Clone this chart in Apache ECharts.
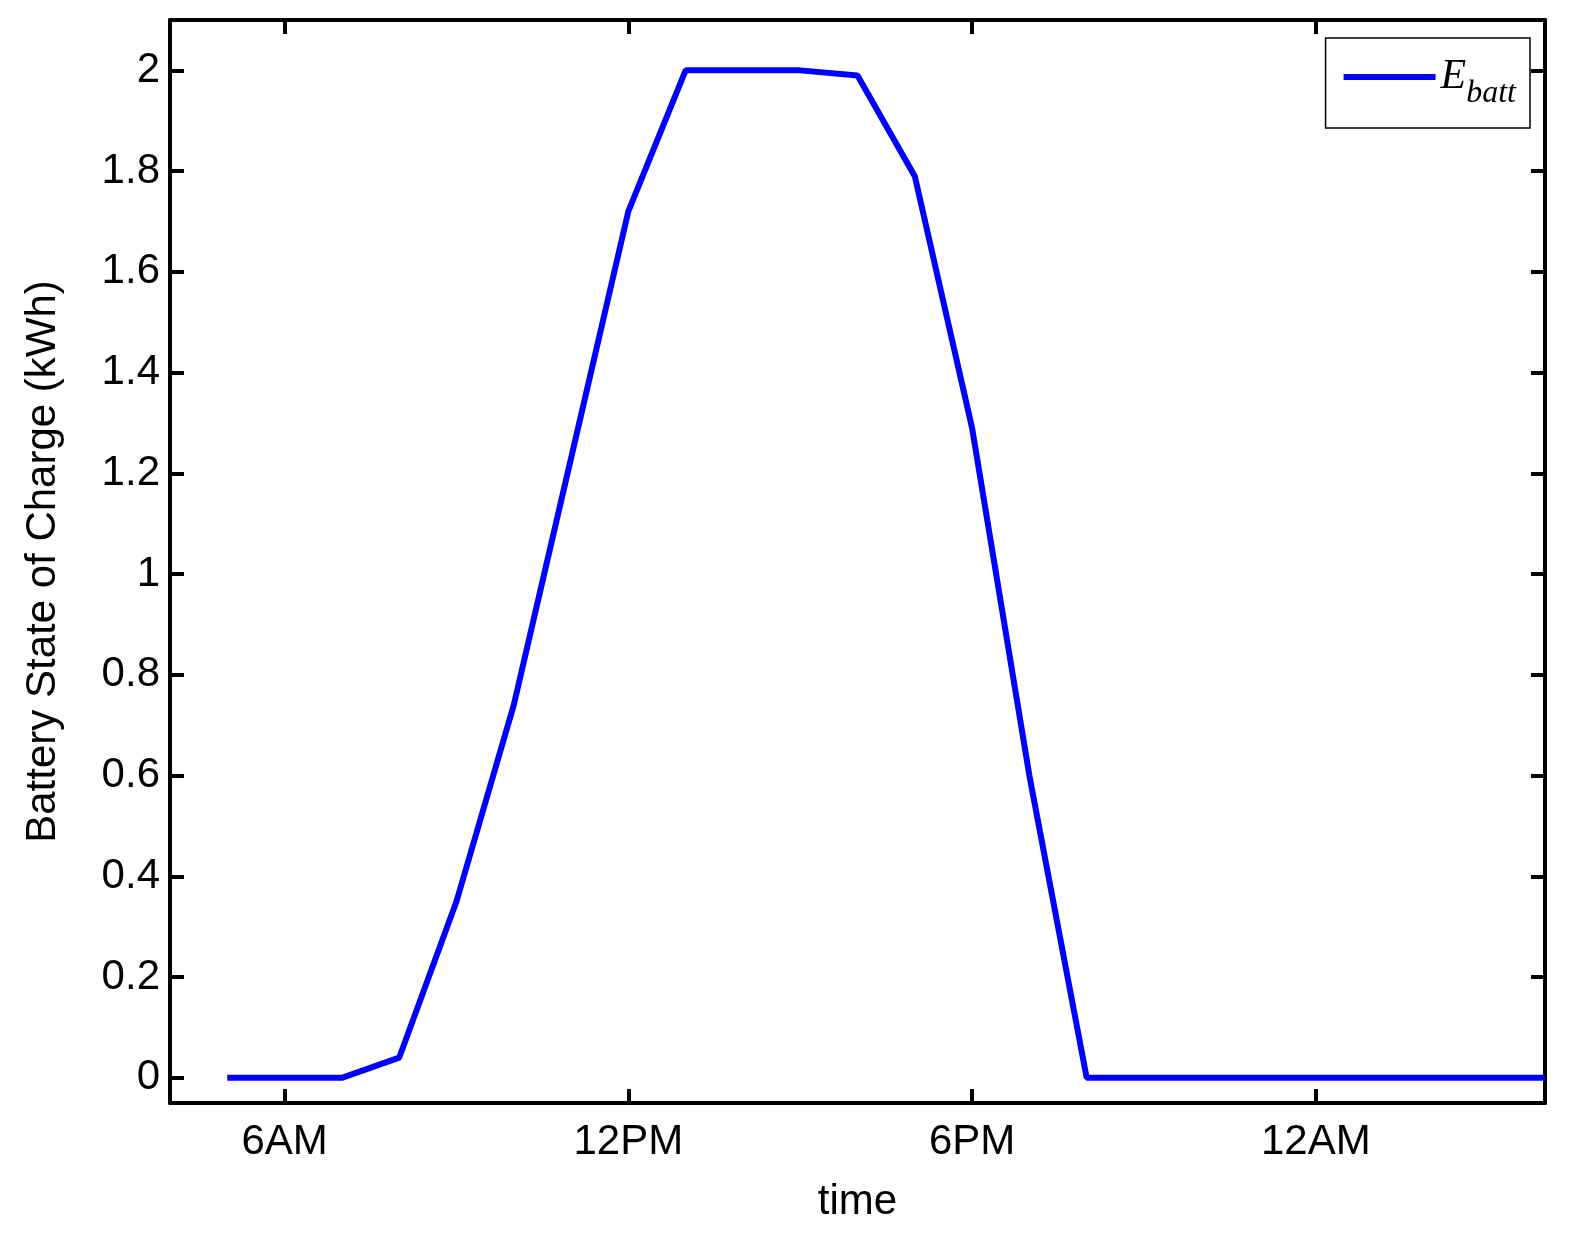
<!DOCTYPE html>
<html>
<head>
<meta charset="utf-8">
<script src="https://cdn.jsdelivr.net/npm/echarts@6/dist/echarts.min.js"></script>
<style>html,body{margin:0;background:#fff}#chart{width:1593px;height:1257px}</style>
</head>
<body>
<div id="chart"></div>
<script>
// hours of the day (24+ = next day)
var hours = [5, 6, 7, 8, 9, 10, 11, 12, 13, 14, 15, 16, 17, 18, 19, 20, 21, 22, 23, 24, 25, 26, 27, 28];
var ebatt = [0, 0, 0, 0.04, 0.35, 0.74, 1.23, 1.72, 2.0, 2.0, 2.0, 1.99, 1.79, 1.29, 0.6, 0, 0, 0, 0, 0, 0, 0, 0, 0];
var tickHours = [6, 12, 18, 24];
var tickNames = {6: '6AM', 12: '12PM', 18: '6PM', 24: '12AM'};
var yTicks = [0, 0.2, 0.4, 0.6, 0.8, 1, 1.2, 1.4, 1.6, 1.8, 2];

var fontFamily = 'Liberation Sans, Arial, sans-serif';
var chart = echarts.init(document.getElementById('chart'), null, {renderer: 'canvas'});

var lineStyle = {color: '#000', width: 4};
function frameAxis(extra) {
  return Object.assign({
    axisLine: {onZero: false, lineStyle: lineStyle},
    splitLine: {show: false}
  }, extra);
}

var option = {
  animation: false,
  grid: {left: 170, right: 48, top: 20, bottom: 154, containLabel: false, outerBoundsMode: 'none'},
  legend: {
    right: 63, top: 38,
    itemWidth: 92, itemHeight: 6, itemGap: 8,
    padding: [18, 14, 18, 18],
    borderColor: '#000', borderWidth: 1.5,
    icon: 'rect',
    formatter: function () { return '{e|E}{s|batt}'; },
    textStyle: {
      rich: {
        e: {fontFamily: 'Liberation Serif', fontStyle: 'italic', fontSize: 42, color: '#000'},
        s: {fontFamily: 'Liberation Serif', fontStyle: 'italic', fontSize: 32, color: '#000', padding: [34, 0, 0, 0]}
      }
    }
  },
  xAxis: [frameAxis({
    type: 'value', min: 4, max: 28, position: 'bottom',
    name: 'time', nameLocation: 'middle', nameGap: 78,
    nameTextStyle: {fontFamily: fontFamily, fontSize: 42, color: '#000'},
    axisTick: {inside: true, length: 14, lineStyle: lineStyle, customValues: tickHours},
    axisLabel: {fontFamily: fontFamily, fontSize: 42, color: '#000', margin: 18, customValues: tickHours,
      formatter: function (v) { return tickNames[v] || ''; }}
  }), frameAxis({
    type: 'value', min: 4, max: 28, position: 'top',
    axisTick: {inside: true, length: 14, lineStyle: lineStyle, customValues: tickHours},
    axisLabel: {show: false}
  })],
  yAxis: [frameAxis({
    type: 'value', min: -0.05, max: 2.1, position: 'left',
    name: 'Battery State of Charge (kWh)', nameLocation: 'middle', nameGap: 106,
    nameTextStyle: {fontFamily: fontFamily, fontSize: 42, color: '#000'},
    axisTick: {inside: true, length: 14, lineStyle: lineStyle, customValues: yTicks},
    axisLabel: {fontFamily: fontFamily, fontSize: 42, color: '#000', margin: 10, customValues: yTicks}
  }), frameAxis({
    type: 'value', min: -0.05, max: 2.1, position: 'right',
    axisTick: {inside: true, length: 14, lineStyle: lineStyle, customValues: yTicks},
    axisLabel: {show: false}
  })],
  series: [{
    name: 'E_batt',
    type: 'line',
    data: hours.map(function (h, i) { return [h, ebatt[i]]; }),
    showSymbol: false,
    lineStyle: {color: '#0000ff', width: 6},
    itemStyle: {color: '#0000ff'}
  }]
};

chart.setOption(option);
</script>
</body>
</html>
